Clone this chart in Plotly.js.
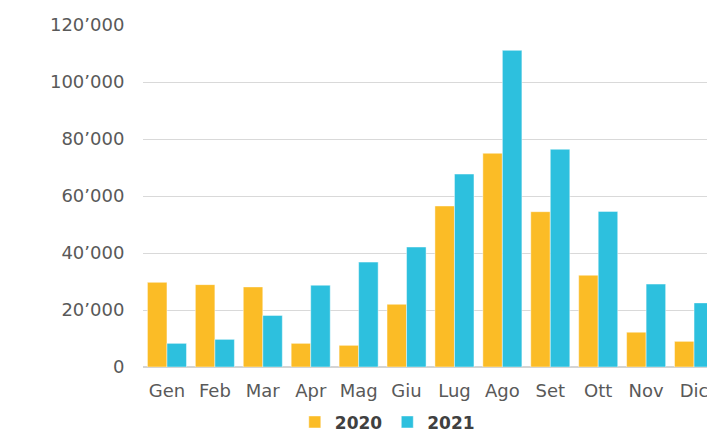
<!DOCTYPE html>
<html>
<head>
<meta charset="utf-8">
<script src="https://cdn.plot.ly/plotly-3.0.1.min.js"></script>
<style>
html,body{margin:0;padding:0;overflow:hidden;background:#fff;}
#chart{width:720px;height:432px;}
</style>
</head>
<body>
<div id="chart"></div>
<script>
const months = ["Gen","Feb","Mar","Apr","Mag","Giu","Lug","Ago","Set","Ott","Nov","Dic"];
const values2020 = [29700, 28900, 28100, 8300, 7600, 22000, 56500, 75000, 54500, 32200, 12200, 9000];
const values2021 = [8300, 9700, 18100, 28700, 36800, 42100, 67700, 111100, 76400, 54600, 29100, 22500];
const yTickVals = [0, 20000, 40000, 60000, 80000, 100000, 120000];
const yTickText = ["0", "20’000", "40’000", "60’000", "80’000", "100’000", "120’000"];
const seriesNames = ["2020", "2021"];

const tickFont = {family: "DejaVu Sans", size: 18, color: "#595959"};

const data = [
  {type: "bar", name: seriesNames[0], x: months, y: values2020,
   marker: {color: "#FBBC26", line: {color: "rgba(255,255,255,0.45)", width: 1}}},
  {type: "bar", name: seriesNames[1], x: months, y: values2021,
   marker: {color: "#2DC0DE", line: {color: "rgba(255,255,255,0.45)", width: 1}}}
];

const layout = {
  width: 720, height: 432,
  margin: {l: 143, r: 2, t: 25, b: 65, autoexpand: false},
  paper_bgcolor: "#fff", plot_bgcolor: "#fff",
  barmode: "group", bargap: 0.185, bargroupgap: 0,
  showlegend: true,
  hovermode: false,
  xaxis: {
    type: "category", tickfont: tickFont, showgrid: false,
    ticks: "outside", ticklen: 7, tickcolor: "rgba(0,0,0,0)",
    showline: false, zeroline: false, automargin: false
  },
  yaxis: {
    range: [0, 120000], tickvals: yTickVals, ticktext: yTickText,
    tickfont: tickFont, showgrid: true, gridcolor: "#d9d9d9", gridwidth: 1,
    zeroline: true, zerolinecolor: "#d4d4d4", zerolinewidth: 2,
    ticks: "outside", ticklen: 14, tickcolor: "rgba(0,0,0,0)", showline: false,
    automargin: false
  },
  legend: {
    orientation: "h", x: 0.264, xanchor: "left", y: -0.162, yanchor: "middle",
    font: {family: "DejaVu Sans", size: 17, color: "#404040", weight: "bold"},
    itemwidth: 30, traceorder: "normal", borderwidth: 0
  },
  font: {family: "DejaVu Sans"}
};

Plotly.newPlot("chart", data, layout, {displayModeBar: false, staticPlot: true});
</script>
</body>
</html>
